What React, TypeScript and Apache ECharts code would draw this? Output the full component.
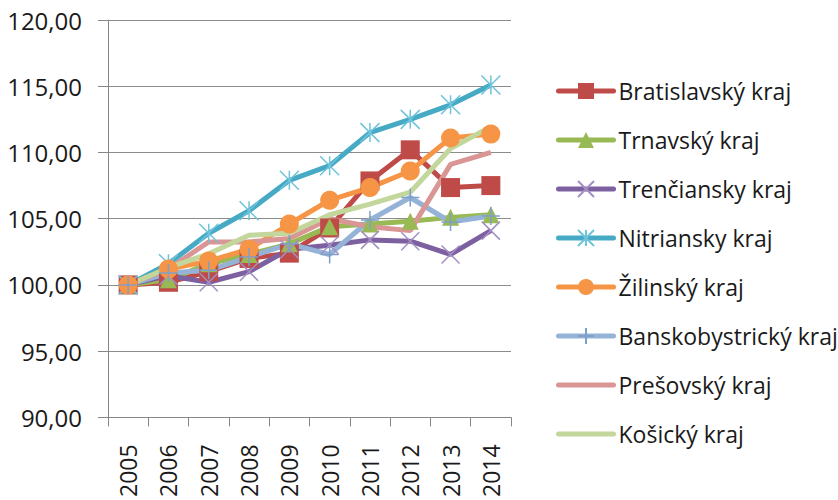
import React, { useEffect, useRef } from "react";
import * as echarts from "echarts";

const years = ["2005", "2006", "2007", "2008", "2009", "2010", "2011", "2012", "2013", "2014"];
const seriesNames = [
  "Bratislavský kraj",
  "Trnavský kraj",
  "Trenčiansky kraj",
  "Nitriansky kraj",
  "Žilinský kraj",
  "Banskobystrický kraj",
  "Prešovský kraj",
  "Košický kraj",
];
const bratislavsky = [100, 100.2, 101.0, 102.0, 102.4, 104.3, 107.85, 110.2, 107.35, 107.5];
const trnavsky = [100, 100.4, 101.6, 102.3, 103.1, 104.4, 104.6, 104.8, 105.1, 105.3];
const trenciansky = [100, 100.7, 100.2, 101.0, 102.7, 103.0, 103.4, 103.3, 102.3, 104.1];
const nitriansky = [100, 101.6, 103.9, 105.6, 107.9, 109.0, 111.5, 112.5, 113.6, 115.1];
const zilinsky = [100, 101.2, 101.8, 102.7, 104.6, 106.4, 107.35, 108.6, 111.1, 111.4];
const banskobystricky = [100, 100.9, 101.1, 102.1, 103.1, 102.3, 104.9, 106.6, 104.75, 105.2];
const presovsky = [100, 101.2, 103.25, 103.25, 103.5, 105.0, 104.4, 104.1, 109.1, 110.0];
const kosicky = [100, 101.3, 102.35, 103.75, 103.9, 105.3, 106.1, 107.0, 110.3, 111.95];

const allData = [bratislavsky, trnavsky, trenciansky, nitriansky, zilinsky, banskobystricky, presovsky, kosicky];
const lineColors = ["#BE4B48", "#98B954", "#7D60A0", "#46AAC5", "#F69546", "#95B3D7", "#D99694", "#C3D69B"];
const markerColors = ["#BE4B48", "#98B954", "#A38FC4", "#6FC3DA", "#F69546", "#7F9FCB", "#D99694", "#C3D69B"];
// thin bar inside a square bounding box (degenerate corner points keep the aspect)
const flatBar = "path://M0,0L0,0M0,4.5L10,4.5L10,5.5L0,5.5ZM10,10L10,10";
const symbols = [
  "rect",
  "triangle",
  "path://M0,0L10,10M10,0L0,10",
  "path://M0,0L10,10M10,0L0,10M5,0L5,10",
  "circle",
  "path://M5,0L5,10M0,5L10,5",
  flatBar,
  flatBar,
];
const symbolSizes = [19, 17, 18, 19, 19, 18, 10, 10];
const showMarks = [true, true, true, true, true, true, false, false];

export default function App() {
  const ref = useRef<HTMLDivElement>(null);
  useEffect(() => {
    if (!ref.current) return;
    const chart = echarts.init(ref.current, null, { renderer: "svg" });
    const font = "'Open Sans', sans-serif";
    chart.setOption({
      animation: false,
      backgroundColor: "#ffffff",
      grid: { left: 108, top: 20, width: 403, height: 403, containLabel: false },
      legend: {
        orient: "vertical",
        left: 551,
        top: 74.5,
        itemWidth: 55,
        itemHeight: 20,
        itemGap: 26,
        lineStyle: { width: 5, cap: "round" },
        textStyle: { fontFamily: font, fontSize: 23, color: "#1a1a1a" },
        data: seriesNames,
      },
      xAxis: {
        type: "category",
        data: years,
        boundaryGap: true,
        axisLine: { lineStyle: { color: "#868686", width: 1 } },
        axisTick: { show: true, length: 9, lineStyle: { color: "#868686" } },
        axisLabel: { rotate: 90, margin: 27, fontFamily: font, fontSize: 23, color: "#1a1a1a" },
      },
      yAxis: {
        type: "value",
        min: 90,
        max: 120,
        interval: 5,
        axisLine: { show: true, lineStyle: { color: "#868686", width: 1 } },
        axisTick: { show: true, length: 10, lineStyle: { color: "#868686" } },
        splitLine: { show: true, lineStyle: { color: "#8c8c8c", width: 1 } },
        axisLabel: {
          margin: 26,
          fontFamily: font,
          fontSize: 24,
          color: "#1a1a1a",
          formatter: (v: number) => v.toFixed(2).replace(".", ","),
        },
      },
      series: seriesNames.map((name, i) => ({
        name,
        type: "line",
        data: allData[i],
        symbol: symbols[i],
        symbolSize: symbolSizes[i],
        showSymbol: showMarks[i],
        lineStyle: { color: lineColors[i], width: 5 },
        itemStyle: {
          color: symbols[i].startsWith("path") && showMarks[i] ? lineColors[i] : markerColors[i],
          borderColor: markerColors[i],
          borderWidth: symbols[i].startsWith("path") && showMarks[i] ? 1.5 : 0,
        },
        emphasis: { disabled: true },
      })),
    });
    return () => chart.dispose();
  }, []);
  return <div ref={ref} style={{ width: 838, height: 500, position: "absolute", left: 0, top: 0 }} />;
}
